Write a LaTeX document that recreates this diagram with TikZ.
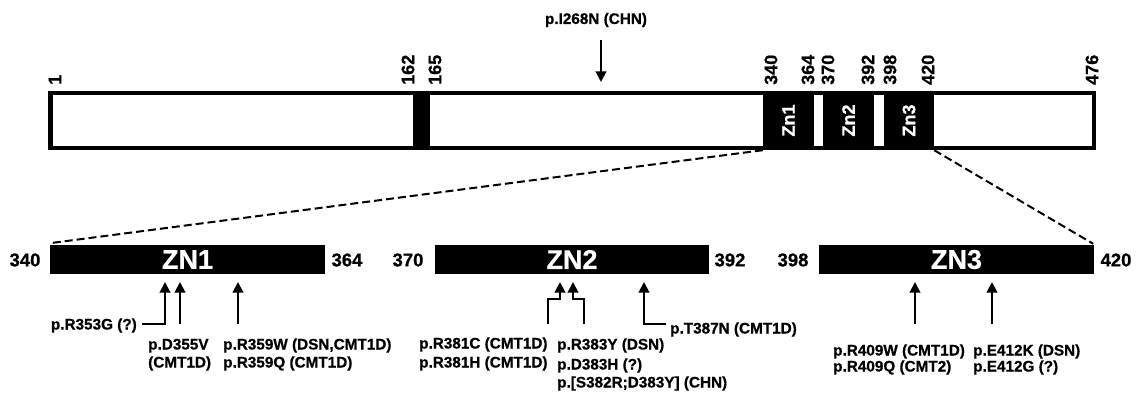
\documentclass[tikz,border=0pt]{standalone}
\usepackage{fontspec}
\setmainfont{Liberation Sans}[BoldFeatures={FakeBold=0.7}]
\usetikzlibrary{arrows.meta}
\tikzset{
  lab/.style={font=\fontsize{15.3}{18}\selectfont\bfseries, inner sep=0pt, anchor=base west},
  topnum/.style={font=\fontsize{18}{20}\selectfont\bfseries, inner sep=0pt, rotate=90, anchor=west},
  botnum/.style={font=\fontsize{18.5}{20}\selectfont\bfseries, inner sep=0pt},
  blk/.style={fill=black, draw=none, inner sep=0pt},
  gapbox/.style={fill=white, draw=none, inner sep=0pt},
  znlab/.style={font=\fontsize{18}{18}\selectfont\bfseries, text=white, rotate=90, inner sep=0pt},
  zbox/.style={fill=black, draw=none, inner sep=0pt, minimum height=29pt, text=white, font=\fontsize{27}{28}\selectfont\bfseries},
  mut/.style={line width=2pt, -{Triangle[length=10.5pt,width=10.5pt]}},
  dashline/.style={line width=2pt, dash pattern=on 8pt off 4pt}
}
\begin{document}
\begin{tikzpicture}[x=1pt,y=-1pt]
\useasboundingbox[fill=white] (0,0) rectangle (1144,396);
% top bar
\node[draw, line width=4.5pt, fill=white, inner sep=0pt, minimum width=1043.5pt, minimum height=54.5pt] (bar) at (572,120.5) {};
\node[blk, minimum width=17pt, minimum height=59pt] (band) at (421.5,120.5) {};
\node[blk, minimum width=171pt, minimum height=59pt] (zntop) at (848.5,120.5) {};
\node[gapbox, minimum width=9pt, minimum height=51pt] (gapA) at (818.5,120.5) {};
\node[gapbox, minimum width=10pt, minimum height=51pt] (gapB) at (879,120.5) {};
\node[znlab] (zt1) at (788.5,120.5) {Zn1};
\node[znlab] (zt2) at (848.5,120.5) {Zn2};
\node[znlab] (zt3) at (909,120.5) {Zn3};
% top numbers
\node[topnum] (n1) at (55,85) {1};
\node[topnum] (n162) at (408,85) {162};
\node[topnum] (n165) at (435,85) {165};
\node[topnum] (n340) at (771,85) {340};
\node[topnum] (n364) at (808,85) {364};
\node[topnum] (n370) at (828,85) {370};
\node[topnum] (n392) at (868,85) {392};
\node[topnum] (n398) at (890,85) {398};
\node[topnum] (n420) at (928,85) {420};
\node[topnum] (n476) at (1092,85) {476};
% I268N
\node[lab, anchor=center] (i268) at (596,20) {p.I268N (CHN)};
\coordinate (i268t) at (601,40);
\coordinate (i268h) at (601,82);
\draw[mut] (i268t) -- (i268h);
% zoomed boxes
\node[zbox, minimum width=275pt] (ZN1) at (187.5,259.5) {ZN1};
\node[zbox, minimum width=274pt] (ZN2) at (572,259.5) {ZN2};
\node[zbox, minimum width=275pt] (ZN3) at (956.5,259.5) {ZN3};
\node[botnum] (b340) at (25,260) {340};
\node[botnum] (b364) at (347,260) {364};
\node[botnum] (b370) at (408,260) {370};
\node[botnum] (b392) at (730,260) {392};
\node[botnum] (b398) at (793,260) {398};
\node[botnum] (b420) at (1116,260) {420};
% dashed connectors
\draw[dashline] (zntop.south west) -- ([xshift=3pt,yshift=2pt]ZN1.north west);
\draw[dashline] (zntop.south east) -- ([xshift=-1pt,yshift=1pt]ZN3.north east);
% ZN1 mutations
\node[lab, anchor=base east] (m353) at (137,329.5) {p.R353G (?)};
\draw[mut] (142,324) -- (165,324) -- (165,282);
\node[lab] (m355a) at (148,349.5) {p.D355V};
\node[lab] (m355b) at (148,367.5) {(CMT1D)};
\draw[mut] (180,324) -- (180,282);
\node[lab] (m359a) at (223,349.5) {p.R359W (DSN,CMT1D)};
\node[lab] (m359b) at (223,367.5) {p.R359Q (CMT1D)};
\draw[mut] (238,324) -- (238,282);
% ZN2 mutations
\node[lab] (m381a) at (419,348.5) {p.R381C (CMT1D)};
\node[lab] (m381b) at (419,367.5) {p.R381H (CMT1D)};
\draw[mut] (548,324) -- (548,299) -- (560,299) -- (560,282);
\node[lab] (m383a) at (557,349.5) {p.R383Y (DSN)};
\node[lab] (m383b) at (557,369.5) {p.D383H (?)};
\node[lab] (m383c) at (557,387.5) {p.[S382R;D383Y] (CHN)};
\draw[mut] (584,324) -- (584,299) -- (573,299) -- (573,282);
\node[lab] (m387) at (670,333.5) {p.T387N (CMT1D)};
\draw[mut] (666,324) -- (644,324) -- (644,282);
% ZN3 mutations
\node[lab] (m409a) at (833,355.5) {p.R409W (CMT1D)};
\node[lab] (m409b) at (833,371.5) {p.R409Q (CMT2)};
\draw[mut] (915,324) -- (915,282);
\node[lab] (m412a) at (973,355.5) {p.E412K (DSN)};
\node[lab] (m412b) at (973,371.5) {p.E412G (?)};
\draw[mut] (992,324) -- (992,282);
\end{tikzpicture}
\end{document}
